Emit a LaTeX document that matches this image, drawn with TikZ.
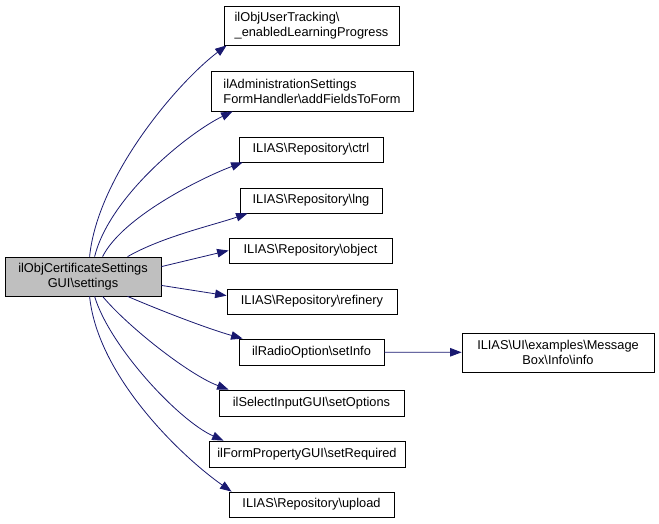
\documentclass[tikz,border=0pt]{standalone}
\usepackage{fontspec}
\setmainfont{Liberation Sans}
\usetikzlibrary{arrows.meta}
\definecolor{edgeblue}{RGB}{25,25,112}
\definecolor{maingray}{RGB}{191,191,191}

\begin{document}
\begin{tikzpicture}[x=1pt,y=-1pt,
  fn/.style={draw=black,line width=0.8pt,inner sep=0pt,minimum height=25pt,
    font=\fontsize{12.8}{15}\selectfont},
  call/.style={draw=edgeblue,line width=0.8pt,-{Triangle[length=11.5pt,width=8.5pt]}}]
\useasboundingbox (0,0) rectangle (659,523);

\node[fn,fill=maingray,minimum width=156pt,minimum height=39pt,align=center] (main) at (83,276.5)
  {ilObjCertificateSettings\\GUI\textbackslash settings};

\node[fn,minimum width=175pt,minimum height=39pt,align=left] (user) at (311.5,25.5)
  {ilObjUserTracking\textbackslash\\\_enabledLearningProgress};
\node[fn,minimum width=202pt,minimum height=40pt,align=left] (admin) at (312,91)
  {ilAdministrationSettings\\FormHandler\textbackslash addFieldsToForm};
\node[fn,minimum width=144pt] (ctrl) at (311,149.5) {ILIAS\textbackslash Repository\textbackslash ctrl};
\node[fn,minimum width=142pt] (lng) at (311,200.5) {ILIAS\textbackslash Repository\textbackslash lng};
\node[fn,minimum width=163pt] (object) at (310.5,250.5) {ILIAS\textbackslash Repository\textbackslash object};
\node[fn,minimum width=170pt] (refinery) at (312,301.5) {ILIAS\textbackslash Repository\textbackslash refinery};
\node[fn,minimum width=145pt,minimum height=26pt] (setinfo) at (311.5,352) {ilRadioOption\textbackslash setInfo};
\node[fn,minimum width=185pt,minimum height=26pt] (setoptions) at (311.5,403) {ilSelectInputGUI\textbackslash setOptions};
\node[fn,minimum width=196pt,minimum height=26pt] (setrequired) at (307,454) {ilFormPropertyGUI\textbackslash setRequired};
\node[fn,minimum width=165pt] (upload) at (311.5,504.5) {ILIAS\textbackslash Repository\textbackslash upload};

\node[fn,minimum width=192pt,minimum height=39pt,align=center] (info) at (558,352.5)
  {ILIAS\textbackslash UI\textbackslash examples\textbackslash Message\\Box\textbackslash Info\textbackslash info};

% calls upwards
\draw[call] ([xshift=85pt]main.north west) .. controls +(8,-80) and +(-50,38) .. ([xshift=3pt]user.south west);
\draw[call] ([xshift=90pt]main.north west) .. controls +(15,-60) and +(-45,22) .. ([xshift=22pt]admin.south west);
\draw[call] ([xshift=98pt]main.north west) .. controls +(20,-40) and +(-40,15) .. ([xshift=4pt]ctrl.south west);
\draw[call] ([xshift=123pt]main.north west) .. controls +(35,-20) and +(-35,12) .. ([xshift=8pt]lng.south west);
\draw[call] ([yshift=-10pt]main.north east) -- (object.west);
\draw[call] ([yshift=11pt]main.south east) -- ([yshift=-7pt]refinery.north west);

% calls downwards
\draw[call] ([xshift=123pt]main.south west) .. controls +(35,15) and +(-35,-10) .. ([xshift=4pt]setinfo.north west);
\draw[call] ([xshift=98pt]main.south west) .. controls +(25,30) and +(-40,-15) .. ([xshift=10pt]setoptions.north west);
\draw[call] ([xshift=90pt]main.south west) .. controls +(15,50) and +(-45,-20) .. ([xshift=15pt]setrequired.north west);
\draw[call] ([xshift=85pt]main.south west) .. controls +(8,80) and +(-50,-35) .. ([xshift=3pt]upload.north west);

\draw[call] (setinfo) -- (info);

\end{tikzpicture}
\end{document}
